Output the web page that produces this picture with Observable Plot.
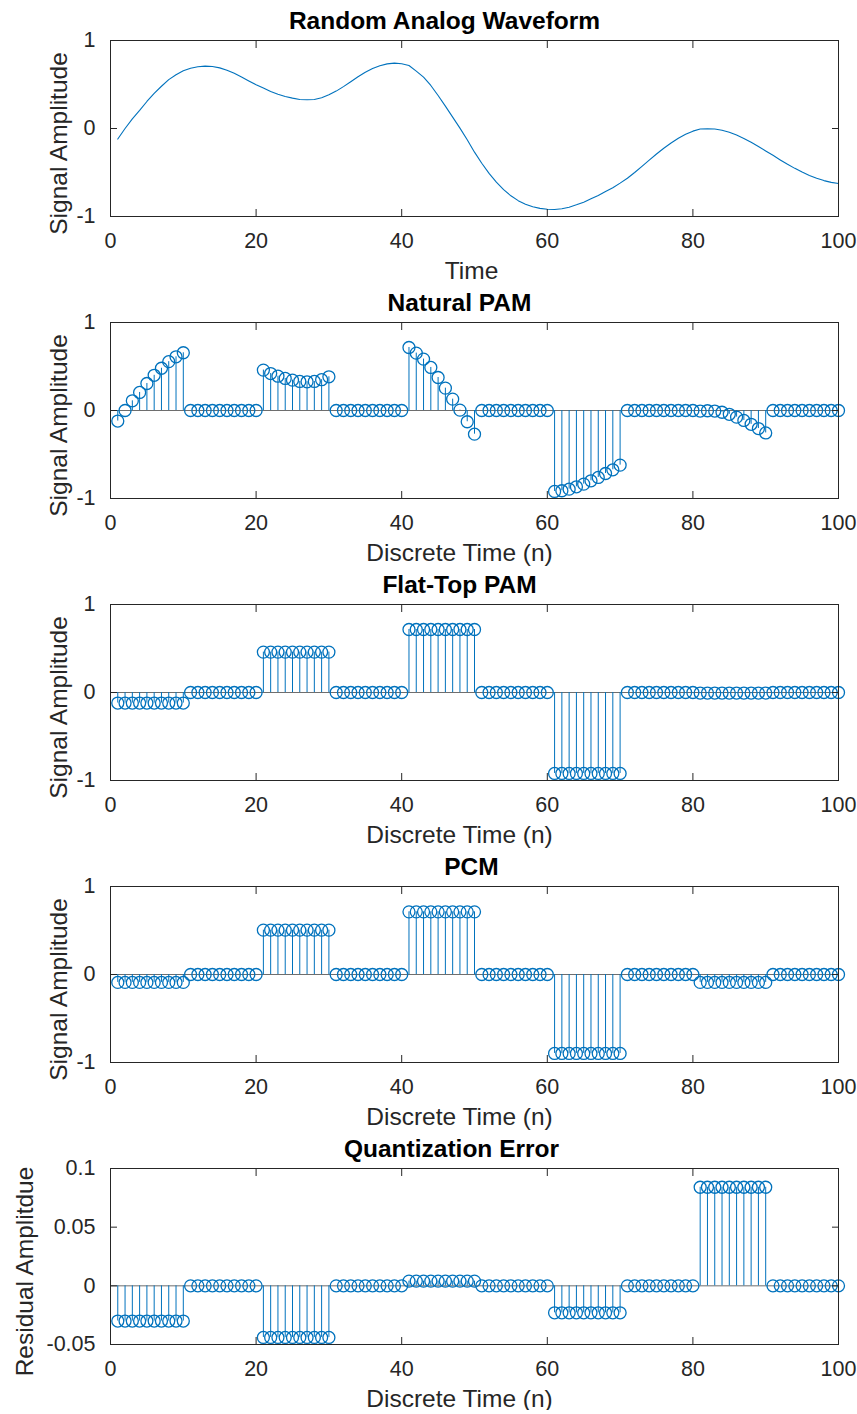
<!DOCTYPE html>
<html>
<head>
<meta charset="utf-8">
<script src="https://cdn.jsdelivr.net/npm/d3@7"></script>
<script src="https://cdn.jsdelivr.net/npm/@observablehq/plot@0.6"></script>
<style>
  html, body { margin: 0; padding: 0; background: #fff; }
  #chart svg { display: block; }
</style>
</head>
<body>
<div id="chart"></div>
<script>
// ---------------- data ----------------
const sampleIndex = d3.range(1, 101);               // n = 1 .. 100
const xTicks = [0, 20, 40, 60, 80, 100];
const ampTicks = [-1, 0, 1];
const errTicks = [-0.05, 0, 0.05, 0.1];

const analogWave = [
  -0.120, 0.000, 0.110, 0.205, 0.307, 0.400, 0.480, 0.555, 0.610, 0.656,
   0.685, 0.702, 0.709, 0.704, 0.689, 0.662, 0.627, 0.585, 0.540, 0.497,
   0.459, 0.420, 0.390, 0.364, 0.345, 0.330, 0.326, 0.330, 0.350, 0.383,
   0.425, 0.476, 0.532, 0.588, 0.639, 0.681, 0.714, 0.734, 0.743, 0.736,
   0.716, 0.652, 0.584, 0.489, 0.375, 0.254, 0.129, 0.004, -0.128, -0.269,
  -0.395, -0.510, -0.610, -0.695, -0.765, -0.820, -0.860, -0.890, -0.908, -0.918,
  -0.920, -0.912, -0.894, -0.867, -0.837, -0.799, -0.761, -0.716, -0.674, -0.621,
  -0.565, -0.500, -0.430, -0.360, -0.290, -0.225, -0.165, -0.110, -0.065, -0.030,
  -0.006, -0.003, -0.006, -0.020, -0.043, -0.075, -0.113, -0.157, -0.205, -0.255,
  -0.305, -0.357, -0.407, -0.453, -0.495, -0.533, -0.566, -0.592, -0.612, -0.625
];

const naturalPAM = [
  -0.120, 0.000, 0.110, 0.205, 0.307, 0.400, 0.480, 0.555, 0.610, 0.656,
   0, 0, 0, 0, 0, 0, 0, 0, 0, 0,
   0.459, 0.420, 0.390, 0.364, 0.345, 0.330, 0.326, 0.330, 0.350, 0.383,
   0, 0, 0, 0, 0, 0, 0, 0, 0, 0,
   0.716, 0.652, 0.584, 0.489, 0.375, 0.254, 0.129, 0.004, -0.128, -0.269,
   0, 0, 0, 0, 0, 0, 0, 0, 0, 0,
  -0.920, -0.912, -0.894, -0.867, -0.837, -0.799, -0.761, -0.716, -0.674, -0.621,
   0, 0, 0, 0, 0, 0, 0, 0, 0, 0,
  -0.006, -0.003, -0.006, -0.020, -0.043, -0.075, -0.113, -0.157, -0.205, -0.255,
   0, 0, 0, 0, 0, 0, 0, 0, 0, 0
];

const flatTopPAM = [
  -0.120, -0.120, -0.120, -0.120, -0.120, -0.120, -0.120, -0.120, -0.120, -0.120,
   0, 0, 0, 0, 0, 0, 0, 0, 0, 0,
   0.459, 0.459, 0.459, 0.459, 0.459, 0.459, 0.459, 0.459, 0.459, 0.459,
   0, 0, 0, 0, 0, 0, 0, 0, 0, 0,
   0.716, 0.716, 0.716, 0.716, 0.716, 0.716, 0.716, 0.716, 0.716, 0.716,
   0, 0, 0, 0, 0, 0, 0, 0, 0, 0,
  -0.920, -0.920, -0.920, -0.920, -0.920, -0.920, -0.920, -0.920, -0.920, -0.920,
   0, 0, 0, 0, 0, 0, 0, 0, 0, 0,
  -0.006, -0.006, -0.006, -0.006, -0.006, -0.006, -0.006, -0.006, -0.006, -0.006,
   0, 0, 0, 0, 0, 0, 0, 0, 0, 0
];

const pcmSignal = [
  -0.090, -0.090, -0.090, -0.090, -0.090, -0.090, -0.090, -0.090, -0.090, -0.090,
   0, 0, 0, 0, 0, 0, 0, 0, 0, 0,
   0.504, 0.504, 0.504, 0.504, 0.504, 0.504, 0.504, 0.504, 0.504, 0.504,
   0, 0, 0, 0, 0, 0, 0, 0, 0, 0,
   0.712, 0.712, 0.712, 0.712, 0.712, 0.712, 0.712, 0.712, 0.712, 0.712,
   0, 0, 0, 0, 0, 0, 0, 0, 0, 0,
  -0.897, -0.897, -0.897, -0.897, -0.897, -0.897, -0.897, -0.897, -0.897, -0.897,
   0, 0, 0, 0, 0, 0, 0, 0, 0, 0,
  -0.090, -0.090, -0.090, -0.090, -0.090, -0.090, -0.090, -0.090, -0.090, -0.090,
   0, 0, 0, 0, 0, 0, 0, 0, 0, 0
];

const quantError = [
  -0.030, -0.030, -0.030, -0.030, -0.030, -0.030, -0.030, -0.030, -0.030, -0.030,
   0, 0, 0, 0, 0, 0, 0, 0, 0, 0,
  -0.044, -0.044, -0.044, -0.044, -0.044, -0.044, -0.044, -0.044, -0.044, -0.044,
   0, 0, 0, 0, 0, 0, 0, 0, 0, 0,
   0.004, 0.004, 0.004, 0.004, 0.004, 0.004, 0.004, 0.004, 0.004, 0.004,
   0, 0, 0, 0, 0, 0, 0, 0, 0, 0,
  -0.023, -0.023, -0.023, -0.023, -0.023, -0.023, -0.023, -0.023, -0.023, -0.023,
   0, 0, 0, 0, 0, 0, 0, 0, 0, 0,
   0.084, 0.084, 0.084, 0.084, 0.084, 0.084, 0.084, 0.084, 0.084, 0.084,
   0, 0, 0, 0, 0, 0, 0, 0, 0, 0
];

const panelTitles = ["Random Analog Waveform", "Natural PAM", "Flat-Top PAM", "PCM", "Quantization Error"];
const xLabels = ["Time", "Discrete Time (n)", "Discrete Time (n)", "Discrete Time (n)", "Discrete Time (n)"];
const yLabels = ["Signal Amplitude", "Signal Amplitude", "Signal Amplitude", "Signal Amplitude", "Residual Amplitdue"];

// ---------------- styling ----------------
const BLUE = "#0072BD";
const AX = "#262626";
const FONT = "'Liberation Sans', Arial, Helvetica, sans-serif";

const panels = [
  {values: analogWave, kind: "line", yDomain: [-1, 1], yTicks: ampTicks, titleDx: -30, xLabelDx: -3, yLabelDx: -44},
  {values: naturalPAM, kind: "stem", yDomain: [-1, 1], yTicks: ampTicks, titleDx: -15, xLabelDx: -15, yLabelDx: -44},
  {values: flatTopPAM, kind: "stem", yDomain: [-1, 1], yTicks: ampTicks, titleDx: -15, xLabelDx: -15, yLabelDx: -44},
  {values: pcmSignal, kind: "stem", yDomain: [-1, 1], yTicks: ampTicks, titleDx: -3, xLabelDx: -15, yLabelDx: -44},
  {values: quantError, kind: "stem", yDomain: [-0.05, 0.1], yTicks: errTicks, titleDx: -23, xLabelDx: -15, yLabelDx: -78}
];

const chart = document.getElementById("chart");

panels.forEach((p, k) => {
  const data = sampleIndex.map((n, i) => ({n, v: p.values[i]}));
  const marks = [];
  if (p.kind === "stem") {
    marks.push(Plot.ruleY([0], {stroke: "#6e6e6e", strokeWidth: 1}));
    marks.push(Plot.ruleX(data, {x: "n", y1: () => 0, y2: "v", stroke: BLUE, strokeWidth: 1}));
    marks.push(Plot.dot(data, {x: "n", y: "v", r: 6, stroke: BLUE, strokeWidth: 1.3, fill: "none"}));
  } else {
    marks.push(Plot.line(data, {x: "n", y: "v", stroke: BLUE, strokeWidth: 1.1}));
  }
  marks.push(Plot.frame({stroke: AX, strokeWidth: 1}));

  // inward ticks on all four sides
  const tickOpts = {tickFormat: () => "", label: null, stroke: AX, tickSize: 7, strokeWidth: 1};
  marks.push(Plot.axisX(xTicks, {...tickOpts, anchor: "bottom", dy: -7}));
  marks.push(Plot.axisX(xTicks, {...tickOpts, anchor: "top", dy: 7}));
  marks.push(Plot.axisY(p.yTicks, {...tickOpts, anchor: "left", dx: 7}));
  marks.push(Plot.axisY(p.yTicks, {...tickOpts, anchor: "right", dx: -7}));

  // tick labels
  marks.push(Plot.axisX(xTicks, {anchor: "bottom", tickSize: 0, tickPadding: 16, fontSize: 21.5, label: null, tickFormat: d => String(d), fill: AX}));
  marks.push(Plot.axisY(p.yTicks, {anchor: "left", tickSize: 0, tickPadding: 15, fontSize: 21.5, label: null, tickFormat: d => String(d), fill: AX}));

  // title and axis labels
  marks.push(Plot.text([panelTitles[k]], {text: d => d, frameAnchor: "top", textAnchor: "middle", dy: -12, dx: p.titleDx, lineAnchor: "bottom",
    fontSize: 24.5, fontWeight: "bold", fill: "#000", fontFamily: FONT}));
  marks.push(Plot.text([xLabels[k]], {text: d => d, frameAnchor: "bottom", textAnchor: "middle", dy: 62, dx: p.xLabelDx, lineAnchor: "bottom",
    fontSize: 24.5, fill: AX, fontFamily: FONT}));
  marks.push(Plot.text([yLabels[k]], {text: d => d, frameAnchor: "left", textAnchor: "middle", dx: p.yLabelDx, dy: 15, rotate: -90, lineAnchor: "bottom",
    fontSize: 24.5, fill: AX, fontFamily: FONT}));

  const svg = Plot.plot({
    width: 857,
    height: 282,
    marginTop: 40,
    marginBottom: 66,
    marginLeft: 110,
    marginRight: 19,
    x: {domain: [0, 100]},
    y: {domain: p.yDomain},
    style: {fontFamily: FONT, fontSize: "21.5px", color: AX, background: "#fff", overflow: "visible"},
    marks
  });
  chart.appendChild(svg);
});
</script>
</body>
</html>
